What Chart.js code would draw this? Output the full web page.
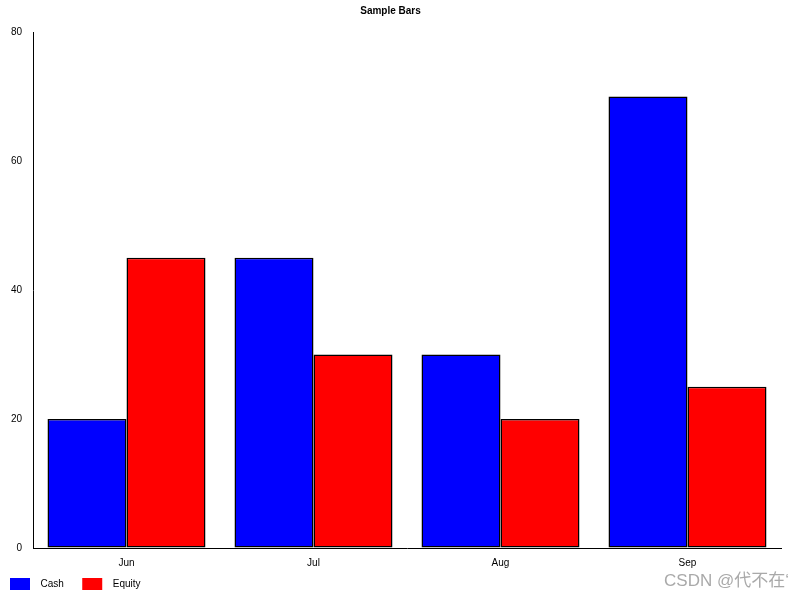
<!DOCTYPE html>
<html>
<head>
<meta charset="utf-8">
<script src="https://cdn.jsdelivr.net/npm/chart.js@4/dist/chart.umd.min.js"></script>
<style>
  body { margin: 0; background: #fff; overflow: hidden; }
  #wrap { width: 800px; height: 600px; }
</style>
</head>
<body>
<div id="wrap"><canvas id="mycanvas" width="800" height="600"></canvas></div>
<script>
var months = ['Jun', 'Jul', 'Aug', 'Sep'];
var cashValues = [20, 45, 30, 70];
var equityValues = [45, 30, 20, 25];
var yTicks = [0, 20, 40, 60, 80];

Chart.defaults.font.family = '"Liberation Sans", Arial, sans-serif';
Chart.defaults.font.size = 10;
Chart.defaults.color = '#000';

// gray watermark in the bottom-right corner
var watermark = {
  id: 'watermark',
  afterDraw: function(chart) {
    var c = chart.ctx;
    c.save();
    c.font = '17px "Liberation Sans", "Noto Sans CJK SC", sans-serif';
    c.fillStyle = 'rgba(160,160,160,0.9)';
    c.textAlign = 'right';
    c.textBaseline = 'middle';
    c.fillText('CSDN @代不在‘', 789, 581);
    c.restore();
  }
};

var ctx = document.getElementById('mycanvas');
var barGraph = new Chart(ctx, {
  type: 'bar',
  data: {
    labels: months,
    datasets: [
      {
        label: 'Cash',
        data: cashValues,
        backgroundColor: '#0000ff',
        borderColor: '#000',
        borderWidth: 1.5,
        borderSkipped: false
      },
      {
        label: 'Equity',
        data: equityValues,
        backgroundColor: '#ff0000',
        borderColor: '#000',
        borderWidth: 1.5,
        borderSkipped: false
      }
    ]
  },
  plugins: [watermark],
  options: {
    responsive: false,
    animation: false,
    layout: { padding: { left: 0, right: 19, top: 0, bottom: 0 } },
    datasets: {
      bar: { categoryPercentage: 0.845, barPercentage: 1.0 }
    },
    plugins: {
      title: {
        display: true,
        text: 'Sample Bars',
        font: { size: 10, weight: 'bold' },
        padding: { top: 5, bottom: 15 }
      },
      legend: {
        position: 'bottom',
        align: 'start',
        labels: {
          boxWidth: 20,
          boxHeight: 12,
          padding: 10,
          generateLabels: function(chart) {
            return chart.data.datasets.map(function(ds, i) {
              return {
                text: '  ' + ds.label + '   ',
                fillStyle: ds.backgroundColor,
                strokeStyle: ds.backgroundColor,
                lineWidth: 0,
                hidden: false,
                datasetIndex: i
              };
            });
          }
        }
      },
      tooltip: { enabled: false }
    },
    scales: {
      x: {
        grid: { color: 'rgba(0,0,0,0)', drawTicks: false },
        border: { color: '#000', width: 1 },
        ticks: { padding: 9 },
        afterFit: function(axis) { axis.height = 20; }
      },
      y: {
        min: 0,
        max: 80,
        grid: { color: 'rgba(0,0,0,0)', drawTicks: false },
        border: { color: '#000', width: 1 },
        afterBuildTicks: function(axis) {
          axis.ticks = yTicks.map(function(v) { return { value: v }; });
        },
        afterFit: function(axis) { axis.width = 33; },
        ticks: { padding: 11 }
      }
    }
  }
});
</script>
</body>
</html>
